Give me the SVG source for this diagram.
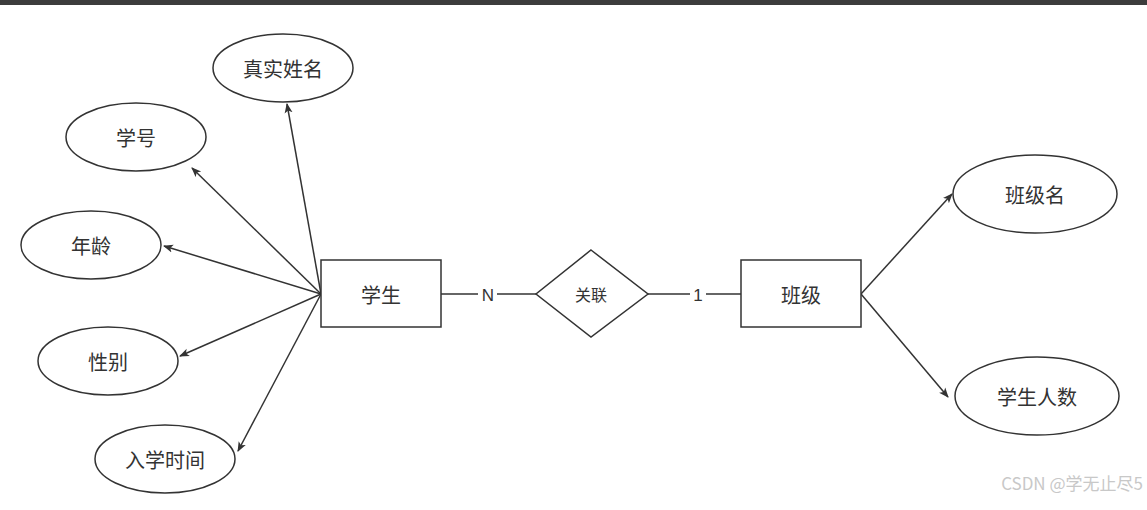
<svg xmlns="http://www.w3.org/2000/svg" width="1147" height="510" viewBox="0 0 1147 510">
<style>
.s{fill:#fff;stroke:#333;stroke-width:1.5}
.t{font-family:"Noto Sans CJK SC","Liberation Sans",sans-serif;font-size:20px;fill:#333;text-anchor:middle;dominant-baseline:central}
.c{stroke:#333;stroke-width:1.5;fill:none}
.l{font-family:"Liberation Sans",sans-serif;font-size:17px;fill:#333;text-anchor:middle;dominant-baseline:central}
</style>
<defs><marker id="a" markerWidth="10" markerHeight="10" refX="9" refY="5" orient="auto" markerUnits="userSpaceOnUse"><path d="M0,1 L10,5 L0,9 L2.5,5 Z" fill="#333"/></marker></defs>
<rect x="0" y="0" width="1147" height="5" fill="#3c3c3c"/>
<rect width="1147" height="505" y="5" fill="#fff"/>
<g id="connectors">
<line class="c" x1="321" y1="294" x2="287" y2="104" marker-end="url(#a)"/>
<line class="c" x1="321" y1="294" x2="192" y2="168" marker-end="url(#a)"/>
<line class="c" x1="321" y1="294" x2="164" y2="246" marker-end="url(#a)"/>
<line class="c" x1="321" y1="294" x2="180" y2="356" marker-end="url(#a)"/>
<line class="c" x1="321" y1="294" x2="238" y2="451" marker-end="url(#a)"/>
<line class="c" x1="441" y1="294" x2="478" y2="294"/>
<line class="c" x1="497" y1="294" x2="536" y2="294"/>
<line class="c" x1="648" y1="294" x2="690" y2="294"/>
<line class="c" x1="706" y1="294" x2="741" y2="294"/>
<line class="c" x1="861" y1="294" x2="952" y2="194" marker-end="url(#a)"/>
<line class="c" x1="861" y1="294" x2="948" y2="397" marker-end="url(#a)"/>
<text class="l" x="488" y="295">N</text>
<text class="l" x="698" y="295">1</text>
</g>
<g id="student"><rect class="s" x="321" y="260" width="120" height="67"/><text class="t" x="381" y="294">学生</text></g>
<g id="rel"><polygon class="s" points="591,250 648,294 591,337 536,294"/><text class="t" x="591" y="294" style="font-size:16px">关联</text></g>
<g id="class"><rect class="s" x="741" y="260" width="120" height="67"/><text class="t" x="801" y="294">班级</text></g>
<g id="e1"><ellipse class="s" cx="283" cy="68" rx="70" ry="34"/><text class="t" x="283" y="68">真实姓名</text></g>
<g id="e2"><ellipse class="s" cx="136" cy="137" rx="70" ry="34"/><text class="t" x="136" y="137">学号</text></g>
<g id="e3"><ellipse class="s" cx="91" cy="245" rx="70" ry="34"/><text class="t" x="91" y="245">年龄</text></g>
<g id="e4"><ellipse class="s" cx="108" cy="361" rx="70" ry="34"/><text class="t" x="108" y="361">性别</text></g>
<g id="e5"><ellipse class="s" cx="165" cy="459" rx="70" ry="34"/><text class="t" x="165" y="459">入学时间</text></g>
<g id="e6"><ellipse class="s" cx="1035" cy="194" rx="82" ry="39"/><text class="t" x="1035" y="194">班级名</text></g>
<g id="e7"><ellipse class="s" cx="1037" cy="396" rx="82" ry="39"/><text class="t" x="1037" y="396">学生人数</text></g>
<text x="1143" y="490" style="font-family:'Noto Sans CJK SC','Liberation Sans',sans-serif;font-size:17px;fill:#c8c8c8;text-anchor:end">CSDN @学无止尽5</text>
</svg>
